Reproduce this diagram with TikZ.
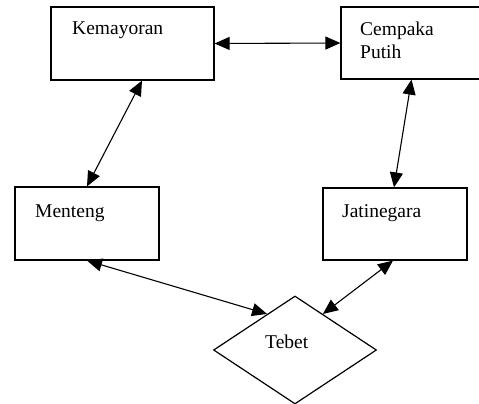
\documentclass[tikz,border=0pt]{standalone}
\usepackage{fontspec}
\setmainfont{Liberation Serif}
\usetikzlibrary{arrows.meta,shapes.geometric,calc}
\begin{document}
\begin{tikzpicture}[x=1pt,y=-1pt,
  box/.style={draw,line width=1.2pt,rectangle,inner sep=0pt},
  lbl/.style={anchor=base west,inner sep=0pt,font=\fontsize{19.5}{22.5}\selectfont},
  link/.style={line width=1.1pt,{Triangle[length=15pt,width=13pt]}-{Triangle[length=15pt,width=13pt]}}]
\useasboundingbox (0,0) rectangle (479,404);
\node[box,minimum width=163pt,minimum height=73pt] (kem) at (132.5,43.5) {};
\node[box,minimum width=141pt,minimum height=72pt] (cem) at (411.5,43) {};
\node[box,minimum width=144pt,minimum height=73pt] (men) at (87,223.5) {};
\node[box,minimum width=144pt,minimum height=72pt] (jat) at (395,224) {};
\node[draw,line width=1.2pt,diamond,inner sep=0pt,aspect=1.5,minimum width=163pt,minimum height=108pt] (teb) at (295,350) {};
\node[lbl] (tkem) at (72,35) {Kemayoran};
\node[lbl] (tcem) at (360,36) {Cempaka};
\node[lbl] (tput) at (360,59) {Putih};
\node[lbl] (tmen) at (35,217) {Menteng};
\node[lbl] (tjat) at (342,217) {Jatinegara};
\node[lbl] (tteb) at (265,348) {Tebet};
\draw[link] (kem.east) -- (cem.west);
\draw[link] ([xshift=9.5pt]kem.south) -- (men.north);
\draw[link] (cem.south) -- ([xshift=-1pt]jat.north);
\draw[link] (men.south) -- ($(teb.north)!0.34!(teb.west)$);
\draw[link] ([xshift=-2pt]jat.south) -- ($(teb.north)!0.34!(teb.east)$);
\end{tikzpicture}
\end{document}
